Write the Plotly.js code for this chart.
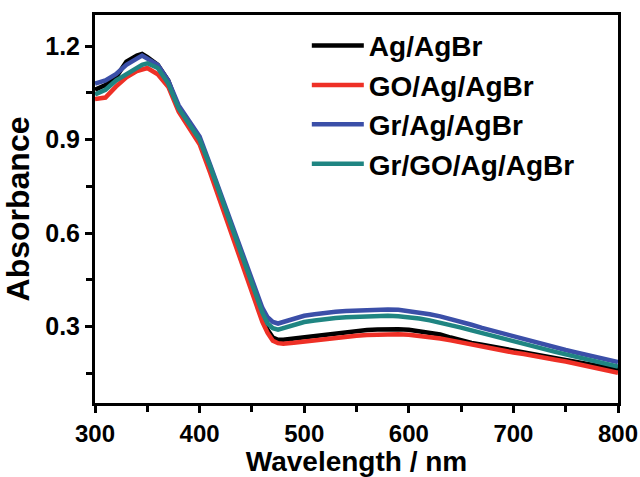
<!DOCTYPE html>
<html>
<head>
<meta charset="utf-8">
<script src="https://cdn.plot.ly/plotly-3.0.1.min.js"></script>
<style>html,body{margin:0;padding:0;background:#fff}#chart{width:640px;height:477px}</style>
</head>
<body>
<div id="chart"></div>
<script>
// Wavelength (nm)
const wavelength = [300,310,320,330,340,345,350,360,370,380,390,400,410,420,430,440,450,460,465,470,475,480,
  490,500,510,520,530,540,550,560,570,580,590,600,610,620,630,640,650,660,670,680,690,700,
  710,720,730,740,750,760,770,780,790,800];

const seriesNames = ["Ag/AgBr", "GO/Ag/AgBr", "Gr/Ag/AgBr", "Gr/GO/Ag/AgBr"];

const agAgBr = [1.06,1.075,1.10,1.15,1.17,1.175,1.165,1.14,1.09,1.00,0.95,0.895,0.805,0.71,0.62,0.53,0.43,0.33,0.29,0.265,0.258,0.258,
  0.262,0.268,0.272,0.276,0.280,0.284,0.287,0.289,0.291,0.292,0.292,0.290,0.286,0.281,0.275,0.265,0.255,0.248,0.242,0.236,0.231,0.226,
  0.220,0.214,0.208,0.201,0.195,0.189,0.182,0.175,0.168,0.162];

const goAgAgBr = [1.03,1.035,1.07,1.10,1.12,1.125,1.13,1.11,1.07,0.99,0.94,0.885,0.795,0.70,0.61,0.515,0.415,0.315,0.28,0.255,0.247,0.245,
  0.248,0.252,0.257,0.262,0.265,0.268,0.271,0.273,0.275,0.276,0.276,0.274,0.271,0.267,0.262,0.256,0.249,0.243,0.236,0.230,0.223,0.217,
  0.212,0.207,0.201,0.194,0.188,0.181,0.174,0.167,0.160,0.152];

const grAgAgBr = [1.08,1.09,1.11,1.14,1.16,1.17,1.16,1.14,1.09,1.01,0.96,0.91,0.82,0.73,0.64,0.55,0.45,0.36,0.33,0.315,0.31,0.315,
  0.325,0.335,0.340,0.345,0.348,0.350,0.352,0.354,0.356,0.355,0.354,0.350,0.346,0.340,0.333,0.325,0.316,0.306,0.296,0.287,0.277,0.268,
  0.258,0.249,0.240,0.232,0.225,0.217,0.209,0.201,0.194,0.186];

const grGoAgAgBr = [1.045,1.06,1.09,1.11,1.13,1.14,1.145,1.13,1.08,1.00,0.95,0.90,0.815,0.72,0.63,0.54,0.44,0.345,0.31,0.295,0.29,0.295,
  0.305,0.315,0.320,0.325,0.328,0.330,0.331,0.333,0.335,0.335,0.333,0.330,0.326,0.320,0.313,0.305,0.297,0.288,0.279,0.270,0.261,0.252,
  0.243,0.235,0.227,0.219,0.211,0.203,0.196,0.188,0.180,0.172];

const xTickVals = [300,400,500,600,700,800];
const yTickVals = [0.3,0.6,0.9,1.2];

const allSeries = [agAgBr, goAgAgBr, grAgAgBr, grGoAgAgBr];
const colors = ["#000000", "#ee3026", "#3b4fa8", "#1f8582"];

const traces = allSeries.map((ys, i) => ({
  x: wavelength, y: ys, type: "scatter", mode: "lines", name: seriesNames[i],
  line: {color: colors[i], width: 4.5}
}));

const font = {family: "Liberation Sans, Arial, sans-serif", color: "#000", weight: "bold"};

const layout = {
  width: 640, height: 477,
  margin: {l: 95, r: 22, t: 15, b: 74},
  paper_bgcolor: "#fff", plot_bgcolor: "#fff",
  font: font,
  showlegend: true,
  legend: {
    x: 0.405, y: 0.985, xanchor: "left", yanchor: "top",
    bgcolor: "rgba(0,0,0,0)", borderwidth: 0,
    font: Object.assign({}, font, {size: 28}),
    itemwidth: 52, tracegroupgap: 0
  },
  xaxis: {
    range: [300, 800], tickvals: xTickVals, ticktext: xTickVals.map(String),
    ticks: "outside", ticklen: 7, tickwidth: 3, tickcolor: "#000",
    minor: {dtick: 50, tick0: 300, ticks: "outside", ticklen: 6, tickwidth: 3, tickcolor: "#000"},
    showline: true, linewidth: 3, linecolor: "#000", mirror: true,
    showgrid: false, zeroline: false,
    tickfont: Object.assign({}, font, {size: 24}),
    title: {text: "Wavelength / nm", font: Object.assign({}, font, {size: 28}), standoff: 16}
  },
  yaxis: {
    range: [0.055, 1.3], tickvals: yTickVals, ticktext: yTickVals.map(v => v.toFixed(1)),
    ticks: "outside", ticklen: 7, tickwidth: 3, tickcolor: "#000",
    minor: {dtick: 0.3, tick0: 0.15, ticks: "outside", ticklen: 6, tickwidth: 3, tickcolor: "#000"},
    showline: true, linewidth: 3, linecolor: "#000", mirror: true,
    showgrid: false, zeroline: false,
    tickfont: Object.assign({}, font, {size: 25}),
    title: {text: "Absorbance", font: Object.assign({}, font, {size: 32}), standoff: 12}
  }
};

Plotly.newPlot("chart", traces, layout, {displayModeBar: false, staticPlot: true});
</script>
</body>
</html>
